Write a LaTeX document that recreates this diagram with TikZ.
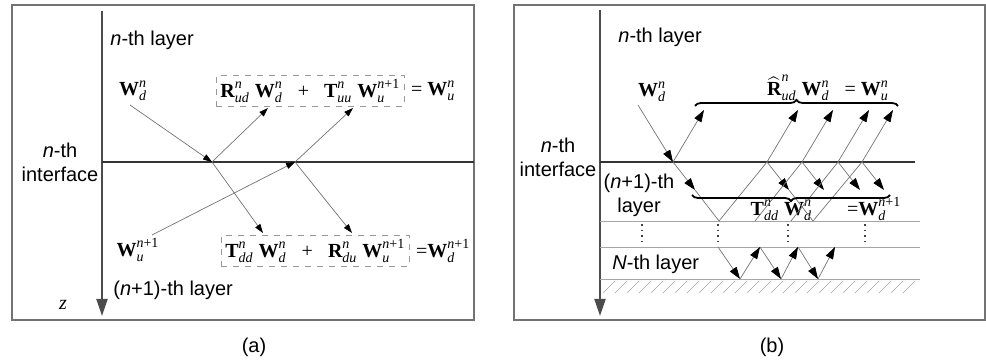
\documentclass[tikz,border=0pt]{standalone}
\usepackage{amsmath}
\usepackage{fontspec}
\setmainfont{Liberation Sans}
\newfontfamily\tms{Liberation Serif}
\usepackage{tikz}
\usetikzlibrary{arrows.meta,positioning,decorations.pathreplacing}

\newcommand{\vsym}[3]{$\text{\tms\bfseries #1}_{\text{\tms\itshape #2}}^{\text{\tms\itshape #3}}$}
\newcommand{\hsym}[3]{$\widehat{\text{\tms\bfseries #1}}_{\text{\tms\itshape #2}}^{\text{\tms\itshape #3}}$}
\newcommand{\np}{n\upshape+1}

\tikzset{
  frame/.style={draw=black!55, line width=1pt},
  axis/.style={draw=black!70, line width=1pt, -{Triangle[length=8.5pt,width=5.5pt]}},
  iface/.style={draw=black!80, line width=0.7pt},
  ray/.style={draw=black!55, line width=0.35pt, -{Triangle[length=4.5pt,width=3pt,color=black]}},
  bray/.style={draw=black!55, line width=0.35pt, -{Triangle[length=6pt,width=4pt,color=black]}},
  plain/.style={draw=black!55, line width=0.35pt},
  lbl/.style={font=\fontsize{10}{12}\selectfont, inner sep=0pt},
  eq/.style={font=\tms\fontsize{10}{12}\selectfont, inner sep=1pt},
  eqbox/.style={eq, draw=black!40, dashed, inner sep=2pt},
  hbrace/.style={decorate, decoration={brace, amplitude=3pt}, line width=0.9pt},
  sublayer/.style={draw=black!35, line width=0.4pt},
  hatch/.style={draw=black!35, line width=0.3pt},
  dots/.style={draw=black!75, dotted, line width=0.8pt}
}

\begin{document}
\begin{tikzpicture}[x=0.5pt, y=-0.5pt]
  \useasboundingbox (0,0) rectangle (986,362);

  % (a) one interface
  \draw[frame] (12,5) rectangle (474,320);
  \coordinate (za) at (102,11);
  \coordinate (zb) at (102,316);
  \draw[axis] (za) -- (zb);
  \coordinate (ial) at (102,162);
  \coordinate (iar) at (474,162);
  \draw[iface] (ial) -- (iar);

  \node[lbl, anchor=west] (laya) at (110,40) {\textit{n}-th layer};
  \node[lbl, align=center] (intfa) at (60,162) {\textit{n}-th\\interface};
  \node[lbl, anchor=west] (layb) at (113,290) {(\textit{n}+1)-th layer};
  \node[font=\tms\itshape\fontsize{10}{12}\selectfont] (z) at (63,305) {z};
  \node[lbl] (capa) at (254,347) {(a)};

  \node[eq] (wd) at (133,91) {\vsym{W}{d}{n}};
  \node[eq] (wu) at (138,250) {\vsym{W}{u}{\np}};
  \node[eqbox, anchor=west] (eqt) at (216,91)
    {\vsym{R}{ud}{n} \vsym{W}{d}{n} \enspace + \enspace \vsym{T}{uu}{n} \vsym{W}{u}{\np}};
  \node[eq, right=2pt of eqt] (eqtr) {= \vsym{W}{u}{n}};
  \node[eqbox, anchor=west] (eqb) at (221,251)
    {\vsym{T}{dd}{n} \vsym{W}{d}{n} \enspace + \enspace \vsym{R}{du}{n} \vsym{W}{u}{\np}};
  \node[eq, right=2pt of eqb] (eqbr) {=\vsym{W}{d}{\np}};

  \coordinate (pa) at (212,162);
  \coordinate (pb) at (295,162);
  \coordinate (wds) at (130,105);
  \coordinate (wun) at (152,235);
  \draw[ray] (wds) -- (pa);
  \draw[ray] (pa) -- (268,108);
  \draw[ray] (pa) -- (263,233);
  \draw[ray] (wun) -- (pb);
  \draw[ray] (pb) -- (353,108);
  \draw[ray] (pb) -- (352,233);

  % (b) stack of layers
  \draw[frame] (514,5) rectangle (985,320);
  \draw[axis] (600,10) -- (600,316);
  \draw[iface] (600,162) -- (915,162);
  \foreach \y in {221,247,279}
    \draw[sublayer] (600,\y) -- (920,\y);
  \foreach \x in {603,615,...,903}
    \draw[hatch] (\x,293) -- ++(12,-12);
  \foreach \x in {642,718,788,865}
    \draw[dots] (\x,224) -- (\x,245);

  \node[lbl, anchor=west] (layn) at (618,37) {\textit{n}-th layer};
  \node[lbl, align=center] (intfb) at (558,157) {\textit{n}-th\\interface};
  \node[lbl, align=center] (layn1) at (639,195) {(\textit{n}+1)-th\\layer};
  \node[lbl, anchor=west] (layN) at (612,264) {\textit{N}-th layer};
  \node[lbl] (capb) at (772,347) {(b)};

  \node[eq] (wdb) at (652,92) {\vsym{W}{d}{n}};
  \node[eq] (eqr) at (828,88) {\hsym{R}{ud}{n} \vsym{W}{d}{n} \enspace = \vsym{W}{u}{n}};
  \node[eq] (eqd) at (826,209) {\vsym{T}{dd}{n} \vsym{W}{d}{n} \quad\enspace =\vsym{W}{d}{\np}};

  \foreach \n/\x in {1/673,2/767,3/802,4/838,5/862}
    \coordinate (q\n) at (\x,162);
  \coordinate (wdbs) at (638,105);
  \draw[bray] (wdbs) -- (q1);
  \foreach \n in {1,...,5} {
    \draw[bray] (q\n) -- ++(31,-52);
    \draw[bray] (q\n) -- ++(22,28);
  }
  \coordinate (v1) at (719,221);
  \coordinate (v2) at (813,221);
  \draw[plain] (695,190) -- (v1) -- (q2);
  \draw[plain] (789,190) -- (v2) -- (q5);
  \draw[plain] (755,221) -- (q3);
  \draw[plain] (791,221) -- (q4);

  \draw[hbrace] (695,106) -- (898,106);
  \draw[hbrace] (890,195) -- (692,195);

  % bounces in the N-th layer
  \foreach \a/\b in {718/740,760/781,798/818} {
    \draw[bray] (\a,247) -- (\b,279);
  }
  \foreach \a/\b in {740/760,781/798,818/835} {
    \draw[bray] (\a,279) -- (\b,247);
  }
\end{tikzpicture}
\end{document}
